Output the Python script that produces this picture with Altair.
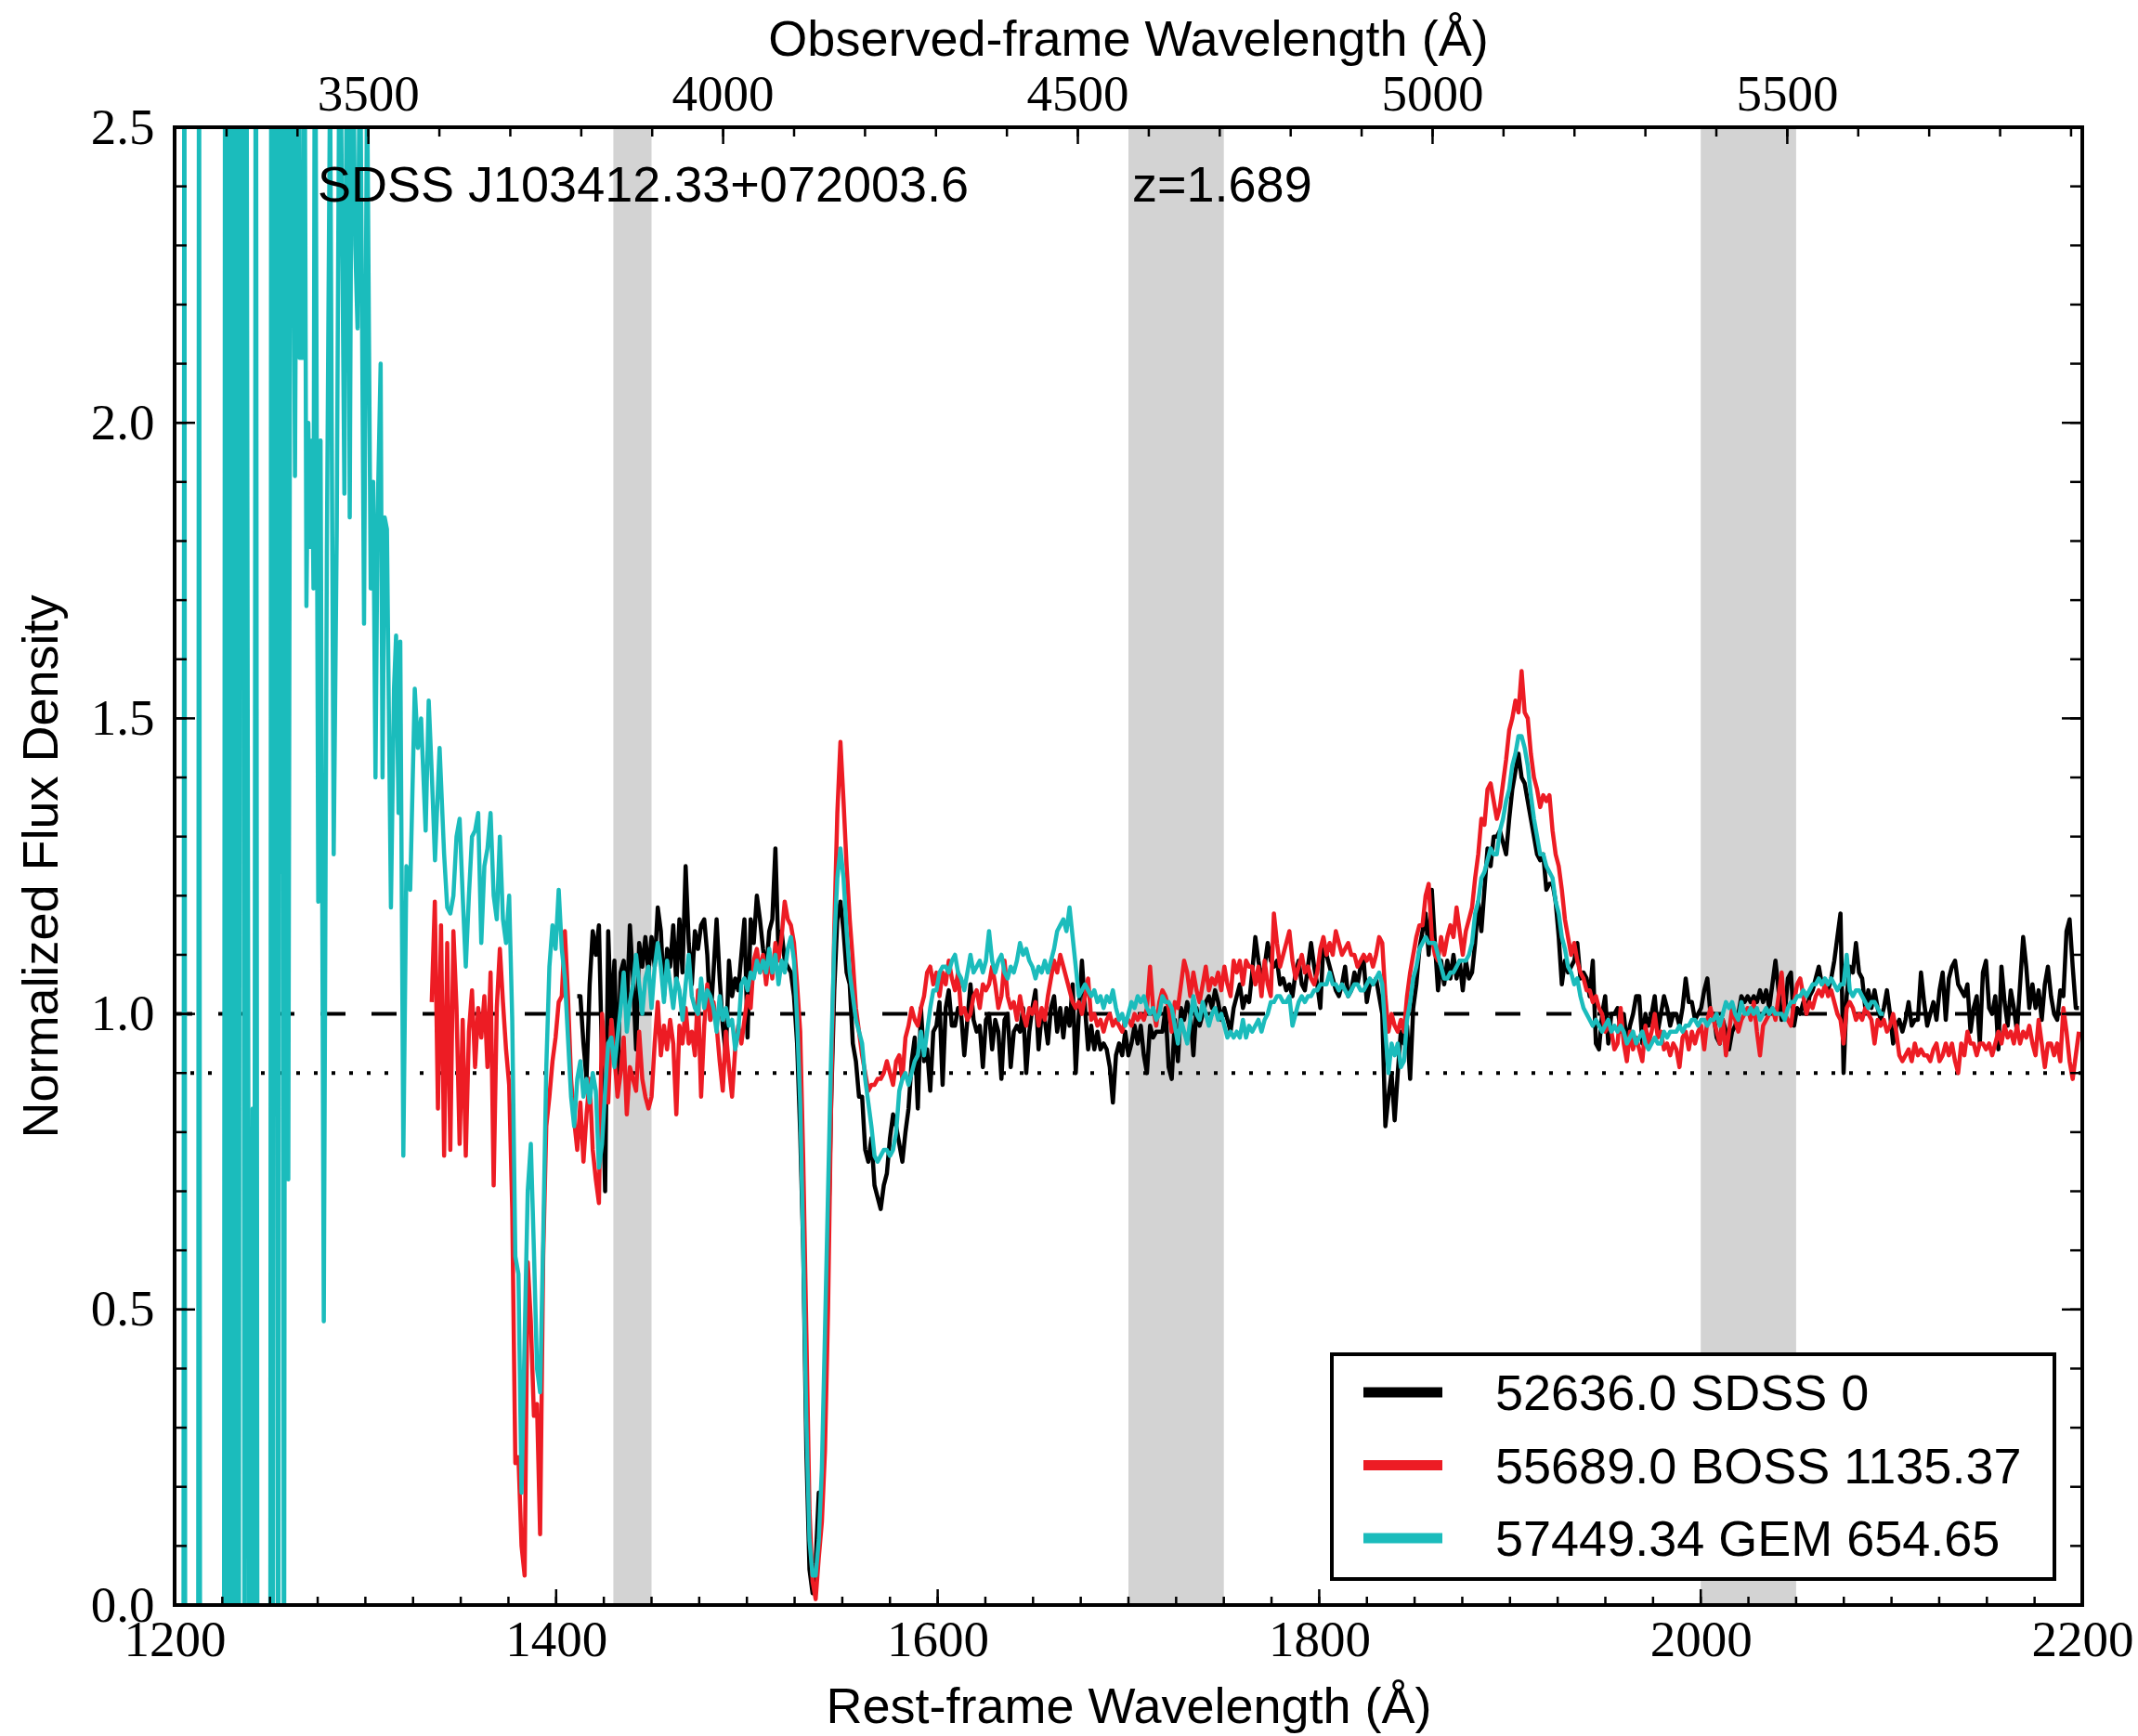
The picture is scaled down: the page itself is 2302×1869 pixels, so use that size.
import altair as alt
import pandas as pd

# ---------------------------------------------------------------------------
# Spectra of SDSS J103412.33+072003.6 (z = 1.689), normalised flux density
# ---------------------------------------------------------------------------
REDSHIFT = 1.689
OBJECT_NAME = "SDSS J103412.33+072003.6"
REDSHIFT_LABEL = "z=1.689"

SERIES = ["52636.0 SDSS 0", "55689.0 BOSS 1135.37", "57449.34 GEM 654.65"]
COLORS = ["#000000", "#ed1c24", "#1bbcbc"]

# common rest-frame pixel grid (linear dispersion)
WAVE_START = 1328.3
WAVE_STEP = 1.623

SDSS_FIRST_PIX = 51
SDSS_FLUX = [
    1.03, 1.03, 0.95, 0.89, 1.05, 1.14, 1.10, 1.15, 0.92, 0.70, 1.14, 0.98,
    1.09, 0.89, 1.07, 1.09, 1.01, 1.15, 1.06, 0.94, 1.12, 1.08, 1.13, 1.07,
    1.13, 1.08, 1.18, 1.14, 1.03, 1.11, 1.08, 1.15, 1.05, 1.16,
    1.07, 1.25, 1.12, 1.05, 1.14, 1.11, 1.15, 1.16, 1.10, 0.99,
    1.07, 1.16, 1.06, 0.98, 0.93, 1.09, 1.03, 1.06, 1.04, 1.10,
    1.16, 0.96, 1.16, 1.12, 1.20, 1.16, 1.11, 1.07, 1.14, 1.16,
    1.28, 1.10, 1.14, 1.09, 1.08, 1.07, 1.03, 0.95, 0.80, 0.60,
    0.26, 0.06, 0.02, 0.07, 0.19, 0.18, 0.36, 0.60, 0.85, 1.04,
    1.16, 1.19, 1.14, 1.07, 1.05, 0.95, 0.92, 0.86, 0.86, 0.77,
    0.75, 0.79, 0.71, 0.69, 0.67, 0.71, 0.73, 0.79,
    0.83, 0.81, 0.78, 0.75, 0.80, 0.84, 0.92, 0.96, 0.84, 1.01,
    0.92, 0.94, 0.87, 0.97, 0.98, 1.02, 0.88, 1.01, 1.04, 0.98,
    0.98, 1.01, 1.00, 0.93, 0.99, 1.05, 0.99, 0.97, 0.98, 0.91,
    0.99, 1.00, 0.94, 0.99, 0.97, 0.89, 0.99, 1.00, 0.91, 0.97,
    0.98, 0.97, 1.01, 0.90, 0.97, 1.01, 1.04, 0.94, 1.00, 0.99,
    0.95, 1.01, 1.03, 0.97, 1.01, 0.96, 1.01, 0.98, 1.05, 0.90,
    1.00, 1.09, 1.01, 0.94, 0.98, 0.94, 0.97, 0.94, 0.95, 0.94,
    0.91, 0.85, 0.93, 0.95, 0.93, 0.97, 0.93, 0.95, 0.98, 0.95,
    0.98, 0.93, 0.90, 0.98, 0.96, 0.97, 0.97,
    0.97, 1.01, 0.91, 0.89, 0.99, 0.92, 1.01, 0.99, 1.02, 1.00,
    0.93, 1.01, 0.98, 1.00, 1.02, 1.03, 1.01, 1.04, 1.02, 0.99,
    1.01, 0.99, 0.97, 1.01, 1.03, 1.05, 1.01, 1.03, 1.02, 1.07,
    1.13, 1.09, 1.06, 1.08, 1.12, 1.09, 1.08, 1.09, 1.05, 1.06,
    1.04, 1.05, 1.03, 1.07, 1.09, 1.05, 1.04, 1.08, 1.12, 1.08,
    1.05, 1.01, 1.12, 1.10, 1.08, 1.06, 1.04, 1.03, 1.05, 1.08,
    1.03, 1.04, 1.07, 1.05, 1.08, 1.09, 1.02, 1.05, 1.05, 1.06,
    1.03, 1.00, 0.81, 0.86, 0.90, 0.82, 0.90, 0.97, 0.95, 0.98,
    0.89, 1.01, 1.05, 1.11, 1.14, 1.17, 1.10,
    1.21, 1.12, 1.04, 1.09, 1.05, 1.09, 1.06, 1.10, 1.06, 1.09,
    1.04, 1.09, 1.06, 1.07, 1.12, 1.19, 1.14, 1.21, 1.28, 1.25,
    1.30, 1.30, 1.31, 1.29, 1.27, 1.33, 1.38, 1.41, 1.44, 1.40,
    1.39, 1.36, 1.33, 1.30, 1.27, 1.26, 1.27, 1.21, 1.22, 1.22,
    1.19, 1.13, 1.05, 1.09, 1.07, 1.08, 1.09, 1.12, 1.06, 1.07,
    1.06, 1.03, 1.09, 0.95, 0.94, 1.00, 1.03, 0.95, 1.00, 1.00,
    1.01, 0.97, 1.00, 0.95, 0.98, 1.00, 1.03, 1.03, 0.95, 1.00,
    0.98, 1.00, 1.03, 0.97, 1.00, 1.03, 1.01, 0.98, 1.00, 1.00,
    0.98, 1.01, 1.06, 1.02,
    1.02, 0.99, 1.00, 1.01, 1.04, 1.06, 1.00, 1.00, 0.96, 0.95,
    0.99, 0.97, 0.94, 0.97, 0.98, 1.00, 1.03, 1.02, 1.03, 1.02,
    1.03, 1.02, 1.04, 1.02, 1.04, 1.01, 1.05, 1.09, 1.04, 0.99,
    1.00, 1.06, 1.07, 0.98, 1.01, 1.00, 1.02, 1.00, 1.03, 1.04,
    1.06, 1.08, 1.05, 1.05, 1.04, 1.06, 1.09, 1.13, 1.17, 0.90,
    1.03, 1.08, 1.07, 1.12, 1.07, 1.06, 1.01, 1.04, 1.01, 1.04,
    1.01, 0.99, 1.01, 1.04, 1.00, 0.95, 0.98, 0.99, 0.97, 0.99,
    1.02, 0.98, 0.99, 0.99, 1.07, 1.02, 0.98, 1.00, 1.02, 0.99,
    1.04, 1.07, 0.99, 1.06, 1.08, 1.09, 1.05, 1.04, 1.03, 1.05,
    0.97, 1.01, 1.03, 0.95, 1.07, 1.09, 1.01, 1.00, 1.03, 0.94,
    1.08, 1.02, 0.98, 1.04, 1.01, 0.97, 1.05, 1.13, 1.08, 1.01,
    1.05, 1.01, 1.04, 0.99, 1.05, 1.08, 1.03, 1.00, 0.99, 1.04,
    1.03, 1.14, 1.16, 1.08, 1.01, 1.01,
]

BOSS_FIRST_PIX = 4
BOSS_FLUX = [
    1.02, 1.19, 0.84, 1.15, 0.76, 1.12, 0.77, 1.14, 1.01, 0.78,
    0.99, 0.76, 0.97, 1.04, 0.91, 1.01, 0.96, 1.03, 0.91, 1.07,
    0.71, 1.01, 1.11, 1.02, 0.94, 0.88, 0.67, 0.24, 0.25, 0.10,
    0.05, 0.58, 0.48, 0.32, 0.34, 0.12, 0.59, 0.81, 0.86, 0.92,
    0.96, 1.02, 1.03, 1.14, 1.03, 0.89, 0.82, 0.77, 0.85, 0.75,
    0.83, 0.89, 0.77, 0.72, 0.68, 1.00, 0.92, 0.85, 0.99, 0.93,
    0.86, 0.90, 0.96, 0.83, 0.91, 0.89, 0.87, 0.97, 0.89, 0.86,
    0.84,
    0.86, 0.95, 1.02, 0.93, 0.98, 0.94, 0.99, 0.95, 0.83, 0.98,
    0.95, 1.01, 0.95, 0.97, 0.93, 1.04, 0.86, 0.98, 1.05, 0.99,
    1.02, 0.98, 0.92, 0.87, 0.97, 0.91, 0.86, 0.94, 0.98, 0.95,
    0.99, 1.03, 1.01, 1.09, 1.11, 1.07, 1.10, 1.05, 1.10, 1.06,
    1.12, 1.09, 1.13, 1.19, 1.16, 1.15, 1.12, 1.05, 0.97, 0.75,
    0.46, 0.16, 0.04, 0.01, 0.08, 0.14, 0.26, 0.50, 0.85, 1.14,
    1.34, 1.46, 1.36, 1.25, 1.16, 1.09, 1.01, 0.97, 0.93, 0.90,
    0.87, 0.88, 0.88, 0.89, 0.89, 0.90, 0.92, 0.90,
    0.88, 0.92, 0.93, 0.89, 0.96, 0.98, 1.01, 0.99, 0.98, 1.01,
    1.03, 1.07, 1.08, 1.05, 1.07, 1.03, 1.07, 1.05, 1.09, 1.06,
    1.04, 1.07, 1.00, 1.01, 0.99, 1.00, 1.03, 1.04, 1.01, 1.05,
    1.04, 1.05, 1.08, 1.05, 1.01, 1.03, 1.09, 1.03, 1.01, 1.02,
    0.99, 1.03, 1.00, 0.98, 1.01, 1.00, 1.02, 0.98, 1.01, 0.99,
    1.03, 1.06, 1.09, 1.07, 1.10, 1.08, 1.06, 1.04, 1.02, 1.01,
    1.02, 1.00, 1.03, 1.06, 0.99, 1.00, 0.98, 0.99, 0.97, 0.99,
    1.00, 0.98, 0.99, 0.98, 0.97, 0.99, 0.99, 0.98, 1.00, 0.99,
    1.00, 0.99, 1.01, 1.08, 1.01, 0.98, 1.02,
    1.04, 1.03, 1.01, 0.97, 1.02, 1.01, 1.05, 1.09, 1.07, 1.03,
    1.07, 1.04, 1.02, 1.05, 1.08, 1.04, 1.06, 1.05, 1.07, 1.04,
    1.08, 1.05, 1.03, 1.09, 1.07, 1.09, 1.05, 1.09, 1.08, 1.08,
    1.05, 1.08, 1.03, 1.09, 1.05, 1.03, 1.17, 1.12, 1.08, 1.10,
    1.12, 1.14, 1.09, 1.06, 1.08, 1.10, 1.07, 1.08, 1.06, 1.05,
    1.07, 1.11, 1.13, 1.10, 1.12, 1.10, 1.14, 1.12, 1.10, 1.11,
    1.12, 1.10, 1.10, 1.08, 1.09, 1.10, 1.09, 1.10, 1.08, 1.10,
    1.13, 1.12, 1.03, 0.97, 1.00, 0.98, 0.97, 0.99, 0.97, 1.03,
    1.07, 1.10, 1.13, 1.15, 1.15, 1.20, 1.22,
    1.13, 1.10, 1.09, 1.13, 1.10, 1.13, 1.15, 1.13, 1.18, 1.14,
    1.10, 1.14, 1.16, 1.18, 1.23, 1.27, 1.33, 1.32, 1.38, 1.39,
    1.36, 1.33, 1.35, 1.39, 1.43, 1.48, 1.50, 1.53, 1.51, 1.58,
    1.51, 1.50, 1.44, 1.40, 1.38, 1.35, 1.37, 1.36, 1.37, 1.31,
    1.27, 1.25, 1.21, 1.16, 1.13, 1.10, 1.12, 1.09, 1.07, 1.06,
    1.04, 1.04, 1.02, 1.03, 1.01, 1.00, 0.97, 0.98, 0.97, 0.94,
    0.95, 1.01, 0.95, 0.92, 0.97, 0.94, 0.96, 0.94, 0.92, 0.98,
    0.95, 0.97, 1.00, 0.96, 0.97, 0.94, 0.95, 0.93, 0.95, 0.94,
    0.91, 0.96, 0.97, 0.94,
    0.97, 0.95, 0.97, 0.98, 0.94, 0.99, 1.01, 0.99, 0.97, 0.95,
    0.99, 0.93, 0.97, 1.01, 0.99, 0.97, 0.99, 1.00, 1.01, 0.99,
    1.02, 0.97, 0.93, 0.98, 0.99, 1.00, 1.01, 0.99, 1.03, 1.07,
    1.00, 0.99, 0.98, 1.02, 1.05, 1.06, 1.03, 1.00, 1.02, 1.01,
    1.03, 1.04, 1.03, 1.05, 1.03, 1.04, 1.02, 1.00, 0.99, 0.95,
    1.01, 1.02, 1.01, 0.99, 1.00, 0.99, 1.01, 1.00, 0.99, 0.95,
    0.99, 0.98, 0.99, 0.97, 0.98, 1.00, 0.97, 0.93, 0.92, 0.93,
    0.94, 0.92, 0.95, 0.93, 0.94, 0.93, 0.93, 0.92, 0.94, 0.95,
    0.92, 0.93, 0.95, 0.93, 0.95, 0.92, 0.90, 0.95, 0.93, 0.97,
    0.95, 0.95, 0.93, 0.95, 0.95, 0.94, 0.95, 0.93, 0.95, 0.97,
    0.95, 0.98, 0.96, 0.97, 0.95, 0.98, 0.95, 0.97, 0.96, 0.98,
    0.95, 0.93, 0.99, 0.95, 0.91, 0.95, 0.95, 0.93, 0.95, 0.92,
    1.01, 0.97, 0.92, 0.89, 0.93, 0.97,
]

GEM_FIRST_PIX = 8
GEM_FLUX = [
    1.27, 1.18, 1.17, 1.20, 1.30, 1.33, 1.20, 1.08, 1.20, 1.30,
    1.31, 1.34, 1.12, 1.25, 1.28, 1.34, 1.20, 1.16, 1.30, 1.16,
    1.12, 1.20, 0.99, 0.59, 0.56, 0.19, 0.45, 0.70, 0.78, 0.60,
    0.40, 0.36, 0.62, 0.91, 1.08, 1.15, 1.11, 1.21, 1.11, 1.06,
    0.96, 0.86, 0.81, 0.89, 0.92, 0.86, 0.89, 0.85, 0.90, 0.87,
    0.74, 0.78, 0.87, 0.95, 0.96, 0.91, 0.96, 1.01, 1.07, 0.97,
    1.02, 1.05, 1.10, 1.05, 1.00, 1.06, 1.08,
    1.01, 1.08, 1.12, 1.08, 1.02, 1.09, 1.05, 1.01, 1.06, 1.04,
    0.99, 1.05, 1.10, 1.03, 1.01, 1.00, 1.06, 1.01, 1.04, 1.03,
    1.01, 0.97, 1.03, 0.99, 1.01, 0.98, 0.99, 0.94, 0.97, 1.05,
    1.06, 1.04, 1.07, 1.06, 1.09, 1.07, 1.09, 1.07, 1.11, 1.07,
    1.10, 1.05, 1.09, 1.07, 1.11, 1.13, 1.09, 0.99, 0.85, 0.60,
    0.31, 0.11, 0.05, 0.05, 0.11, 0.23, 0.46, 0.70, 0.93, 1.12,
    1.23, 1.28, 1.23, 1.14, 1.07, 1.03, 0.99, 0.97, 0.95, 0.89,
    0.85, 0.81, 0.76, 0.75, 0.76, 0.77, 0.77, 0.76,
    0.77, 0.80, 0.87, 0.89, 0.90, 0.88, 0.90, 0.92, 0.93, 0.97,
    0.93, 0.97, 1.01, 1.04, 1.04, 1.07, 1.08, 1.08, 1.07, 1.09,
    1.10, 1.07, 1.06, 1.04, 1.07, 1.10, 1.07, 1.08, 1.09, 1.07,
    1.09, 1.14, 1.09, 1.07, 1.09, 1.10, 1.07, 1.06, 1.08, 1.07,
    1.09, 1.12, 1.10, 1.11, 1.09, 1.08, 1.06, 1.08, 1.07, 1.09,
    1.07, 1.09, 1.11, 1.14, 1.15, 1.16, 1.14, 1.18, 1.13, 1.08,
    1.03, 1.04, 1.05, 1.04, 1.03, 1.04, 1.02, 1.03, 1.01, 1.03,
    1.02, 1.04, 1.01, 0.99, 1.00, 0.98, 1.00, 1.02, 1.01, 1.03,
    1.02, 1.03, 1.01, 1.00, 1.01, 0.99, 1.00,
    1.03, 1.02, 1.02, 1.01, 0.98, 0.95, 0.99, 0.97, 0.95, 0.99,
    1.03, 1.00, 0.99, 1.02, 1.00, 0.98, 1.00, 1.01, 0.99, 1.00,
    0.98, 0.96, 0.97, 0.96, 0.97, 0.96, 0.99, 0.96, 0.98, 0.97,
    0.98, 0.99, 0.97, 0.99, 1.00, 1.02, 1.02, 1.03, 1.03, 1.02,
    1.02, 1.03, 0.98, 1.00, 1.02, 1.03, 1.02, 1.03, 1.03, 1.04,
    1.04, 1.05, 1.05, 1.05, 1.07, 1.05, 1.05, 1.04, 1.05, 1.04,
    1.03, 1.04, 1.05, 1.05, 1.04, 1.04, 1.05, 1.06, 1.05, 1.06,
    1.07, 1.05, 0.97, 0.90, 0.95, 0.93, 0.95, 0.91, 0.92, 0.99,
    1.02, 1.06, 1.08, 1.11, 1.12, 1.13, 1.12,
    1.12, 1.12, 1.10, 1.08, 1.06, 1.06, 1.07, 1.07, 1.08, 1.09,
    1.09, 1.09, 1.10, 1.12, 1.17, 1.19, 1.23, 1.24, 1.26, 1.28,
    1.27, 1.27, 1.31, 1.33, 1.36, 1.38, 1.42, 1.44, 1.47, 1.47,
    1.45, 1.42, 1.37, 1.33, 1.30, 1.27, 1.27, 1.25, 1.24, 1.23,
    1.19, 1.17, 1.13, 1.11, 1.08, 1.07, 1.05, 1.06, 1.03, 1.01,
    1.00, 0.99, 0.98, 0.99, 0.98, 0.97, 0.98, 0.99, 0.97, 0.98,
    0.97, 0.98, 0.97, 0.95, 0.96, 0.97, 0.95, 0.96, 0.97, 0.95,
    0.94, 0.95, 0.96, 0.95, 0.95, 0.97, 0.96, 0.97, 0.97, 0.97,
    0.98, 0.97, 0.98, 0.98,
    0.99, 0.99, 0.98, 0.99, 0.99, 0.98, 0.99, 0.99, 1.00, 0.98,
    1.00, 1.02, 1.01, 1.02, 1.00, 0.99, 1.02, 1.00, 1.00, 1.01,
    1.00, 1.01, 0.99, 1.00, 1.01, 1.00, 1.01, 1.00, 1.00, 1.00,
    0.99, 1.01, 1.02, 1.02, 1.03, 1.03, 1.04, 1.03, 1.04, 1.05,
    1.05, 1.06, 1.05, 1.06, 1.05, 1.06, 1.05, 1.04, 1.05, 1.05,
    1.10, 1.04, 1.03, 1.04, 1.04, 1.03, 1.02, 1.01, 1.02, 1.02,
    1.01, 1.00, 1.00,
]

# noisy blue end of the GEM spectrum (values beyond the y range are clipped)
GEM_BLUE_WAVE = [
    1200.0, 1204.6, 1205.1, 1205.6, 1212.3, 1212.8, 1213.4, 1225.8, 1226.5,
    1227.3, 1228.0, 1228.8, 1229.6, 1230.4, 1231.2, 1232.0, 1232.8, 1233.6,
    1234.4, 1235.2, 1235.9, 1236.7, 1237.5, 1238.8, 1239.4, 1240.9, 1241.6,
    1242.6, 1243.5, 1250.1, 1250.7, 1251.5, 1252.3, 1252.9, 1253.5, 1254.3,
    1255.1, 1255.8, 1256.5, 1257.3, 1258.3, 1259.6, 1261.2, 1263.1, 1264.7,
    1265.5, 1267.1, 1267.9, 1269.1, 1270.1, 1270.9, 1272.0, 1272.8, 1273.6,
    1275.3, 1276.5, 1278.2, 1279.8, 1281.5, 1283.4, 1285.0, 1286.6, 1289.0,
    1290.7, 1291.8, 1293.1, 1294.7, 1295.9, 1297.2, 1299.3, 1300.9, 1302.8,
    1304.1, 1305.3, 1306.4, 1308.0, 1309.0, 1310.1, 1311.3, 1313.4, 1315.0,
    1316.1, 1317.4, 1318.3, 1319.9, 1321.5, 1323.5, 1325.9, 1327.5, 1329.2,
    1331.6, 1333.2, 1334.9, 1336.5, 1338.9,
]
GEM_BLUE_FLUX = [
    -0.6, -0.6, 3.2, -0.6, -0.6, 3.2, -0.6, -0.6, 3.2,
    -0.6, 3.2, -0.6, 3.2, -0.6, 3.2, -0.6, 3.2, -0.6,
    3.2, 2.22, 3.2, -0.6, 3.2, 0.55, -0.6, 0.84, -0.6,
    3.2, -0.6, -0.6, 3.2, -0.6, 3.2, 1.06, 3.2, -0.6,
    3.2, 1.24, 3.2, -0.6, 3.2, 0.72, 3.2, 1.91, 3.0,
    2.11, 2.11, 3.0, 1.69, 2.00, 1.79, 1.97, 1.72, 2.9,
    1.19, 1.97, 0.48, 1.78, 2.6, 1.27, 1.82, 2.8, 1.88,
    2.9, 1.84, 2.8, 2.30, 2.16, 2.7, 1.66, 2.6, 1.72,
    1.90, 1.40, 1.84, 2.10, 1.40, 1.84, 1.82, 1.18, 1.55,
    1.64, 1.34, 1.63, 0.76, 1.25, 1.21, 1.55, 1.45, 1.50,
    1.31, 1.53, 1.40, 1.26, 1.45,
]

# masked wavelength windows and reference levels
MASK_LO = [1430, 1700, 2000]
MASK_HI = [1450, 1750, 2050]
DASHED_LEVEL = [1.0]
DOTTED_LEVEL = [0.9]

# axis ticks
X_MAJOR = [1200, 1400, 1600, 1800, 2000, 2200]
X_MINOR = list(range(1200, 2201, 25))
Y_MAJOR = [0.0, 0.5, 1.0, 1.5, 2.0, 2.5]
Y_MINOR = [round(0.1 * k, 1) for k in range(26)]
OBS_MAJOR = [3500, 4000, 4500, 5000, 5500]
OBS_MINOR = list(range(3300, 5901, 100))

# ---------------------------------------------------------------------------
W, H = 2054, 1591
SANS = "Liberation Sans"
SERIF = "Liberation Serif"
SANS_SIZE = 54
SERIF_SIZE = 55
LINE_W = 4.5


def grid_frame(name, first, flux):
    wave = [round(WAVE_START + WAVE_STEP * (first + k), 2) for k in range(len(flux))]
    return pd.DataFrame({"wave": wave, "flux": flux, "series": name})


sdss = grid_frame(SERIES[0], SDSS_FIRST_PIX, SDSS_FLUX)
boss = grid_frame(SERIES[1], BOSS_FIRST_PIX, BOSS_FLUX)
gem = pd.concat(
    [pd.DataFrame({"wave": GEM_BLUE_WAVE, "flux": GEM_BLUE_FLUX, "series": SERIES[2]}),
     grid_frame(SERIES[2], GEM_FIRST_PIX, GEM_FLUX)],
    ignore_index=True,
)

x_scale = alt.Scale(domain=[1200, 2200], nice=False, zero=False)
y_scale = alt.Scale(domain=[0, 2.5], nice=False, zero=False)

x_axis = alt.Axis(
    values=X_MAJOR, format="d", title="Rest-frame Wavelength (Å)",
    ticks=False, tickSize=0, domain=False, grid=False,
    labelFont=SERIF, labelFontSize=SERIF_SIZE, labelColor="black",
    labelBaseline="alphabetic", labelPadding=54, labelFlush=False, labelOverlap=False,
    titleFont=SANS, titleFontSize=SANS_SIZE, titleFontWeight="normal", titleColor="black",
    titleX=W / 2, titleY=126, titleAlign="center", titleBaseline="alphabetic",
)
y_axis = alt.Axis(
    values=Y_MAJOR, format=".1f", title="Normalized Flux Density",
    ticks=False, tickSize=0, domain=False, grid=False,
    labelFont=SERIF, labelFontSize=SERIF_SIZE, labelColor="black",
    labelAlign="right", labelBaseline="middle", labelPadding=22,
    labelFlush=False, labelOverlap=False,
    titleFont=SANS, titleFontSize=SANS_SIZE, titleFontWeight="normal", titleColor="black",
    titleAngle=270, titleX=-127, titleY=H / 2, titleAlign="center", titleBaseline="alphabetic",
)


def X(field):
    return alt.X(field, scale=x_scale, axis=x_axis)


def Y(field):
    return alt.Y(field, scale=y_scale, axis=y_axis)


# grey masked windows
bands = alt.Chart(pd.DataFrame({"lo": MASK_LO, "hi": MASK_HI})).mark_rect(
    color="#d3d3d3"
).encode(x=X("lo:Q"), x2="hi:Q", y=alt.value(0), y2=alt.value(H))

dashed = alt.Chart(pd.DataFrame({"level": DASHED_LEVEL})).mark_rule(
    color="black", strokeWidth=4, strokeDash=[27, 28]
).encode(y=Y("level:Q"))

dotted = alt.Chart(pd.DataFrame({"level": DOTTED_LEVEL})).mark_rule(
    color="black", strokeWidth=4, strokeDash=[4, 15]
).encode(y=Y("level:Q"))


def spectrum(df, color):
    return alt.Chart(df).mark_line(
        clip=True, color=color, strokeWidth=LINE_W, strokeJoin="round"
    ).encode(x=X("wave:Q"), y=Y("flux:Q"), order="wave:Q")


lines = [spectrum(sdss, COLORS[0]), spectrum(boss, COLORS[1]), spectrum(gem, COLORS[2])]


# inward-pointing tick marks on all four sides
def xticks(values, length, width):
    return alt.Chart(pd.DataFrame({"t": values})).mark_rule(
        color="black", strokeWidth=width
    ).encode(x=X("t:Q"), y=alt.value(H), y2=alt.value(H - length))


def obs_ticks(values, length, width):
    return alt.Chart(pd.DataFrame({"t": values})).transform_calculate(
        rest=f"datum.t / {1 + REDSHIFT}"
    ).mark_rule(color="black", strokeWidth=width).encode(
        x=X("rest:Q"), y=alt.value(0), y2=alt.value(length)
    )


def yticks(values, length, width, right=False):
    x0, x1 = (W, W - length) if right else (0, length)
    return alt.Chart(pd.DataFrame({"t": values})).mark_rule(
        color="black", strokeWidth=width
    ).encode(y=Y("t:Q"), x=alt.value(x0), x2=alt.value(x1))


ticks = [
    xticks(X_MINOR, 9, 2.5), xticks(X_MAJOR, 17, 2.5),
    obs_ticks(OBS_MINOR, 10, 2.5), obs_ticks(OBS_MAJOR, 18, 2.5),
    yticks(Y_MINOR, 13, 2.5), yticks(Y_MAJOR, 22, 2.5),
    yticks(Y_MINOR, 13, 2.5, right=True), yticks(Y_MAJOR, 22, 2.5, right=True),
]

top_labels = alt.Chart(pd.DataFrame({"t": OBS_MAJOR})).transform_calculate(
    rest=f"datum.t / {1 + REDSHIFT}"
).mark_text(
    font=SERIF, fontSize=SERIF_SIZE, baseline="alphabetic", align="center", color="black"
).encode(x=X("rest:Q"), y=alt.value(-18), text=alt.Text("t:Q", format="d"))

top_title = alt.Chart(pd.DataFrame({"s": ["Observed-frame Wavelength (Å)"]})).mark_text(
    font=SANS, fontSize=SANS_SIZE, baseline="alphabetic", align="center", color="black"
).encode(x=alt.value(W / 2), y=alt.value(-77), text="s:N")

name_text = alt.Chart(pd.DataFrame({"s": [OBJECT_NAME]})).mark_text(
    font=SANS, fontSize=SANS_SIZE, baseline="alphabetic", align="left", color="black"
).encode(x=alt.value(154), y=alt.value(80), text="s:N")

z_text = alt.Chart(pd.DataFrame({"s": [REDSHIFT_LABEL]})).mark_text(
    font=SANS, fontSize=SANS_SIZE, baseline="alphabetic", align="left", color="black"
).encode(x=alt.value(1031), y=alt.value(80), text="s:N")

frame = alt.Chart(pd.DataFrame({"a": [0]})).mark_rect(
    fillOpacity=0, stroke="black", strokeWidth=4
).encode(x=alt.value(0), x2=alt.value(W), y=alt.value(0), y2=alt.value(H))

# legend box in the lower right corner
LEG_X0, LEG_X1, LEG_Y0, LEG_Y1 = 1246, 2024, 1321, 1563
LEG_ROW0, LEG_ROW_GAP = 1362, 78.5
legend = [
    alt.Chart(pd.DataFrame({"a": [0]})).mark_rect(
        fill="white", stroke="black", strokeWidth=4
    ).encode(x=alt.value(LEG_X0), x2=alt.value(LEG_X1), y=alt.value(LEG_Y0), y2=alt.value(LEG_Y1))
]
for k, (label, color) in enumerate(zip(SERIES, COLORS)):
    yrow = LEG_ROW0 + k * LEG_ROW_GAP
    src = pd.DataFrame({"s": [label]})
    legend.append(
        alt.Chart(src).mark_rule(color=color, strokeWidth=11).encode(
            x=alt.value(1280), x2=alt.value(1365), y=alt.value(yrow)
        )
    )
    legend.append(
        alt.Chart(src).mark_text(
            font=SANS, fontSize=SANS_SIZE, baseline="alphabetic", align="left", color="black"
        ).encode(x=alt.value(1422), y=alt.value(yrow + 19), text="s:N")
    )

chart = alt.layer(
    bands, dashed, dotted, *lines, *ticks, frame, top_labels, top_title,
    name_text, z_text, *legend,
).properties(
    width=W, height=H,
    autosize=alt.AutoSizeParams(type="none"),
    padding={"left": 188, "top": 137, "right": 60, "bottom": 141},
    background="white",
).configure_view(strokeWidth=0)

chart.save("out.html", embed_options={"renderer": "svg", "actions": False})
